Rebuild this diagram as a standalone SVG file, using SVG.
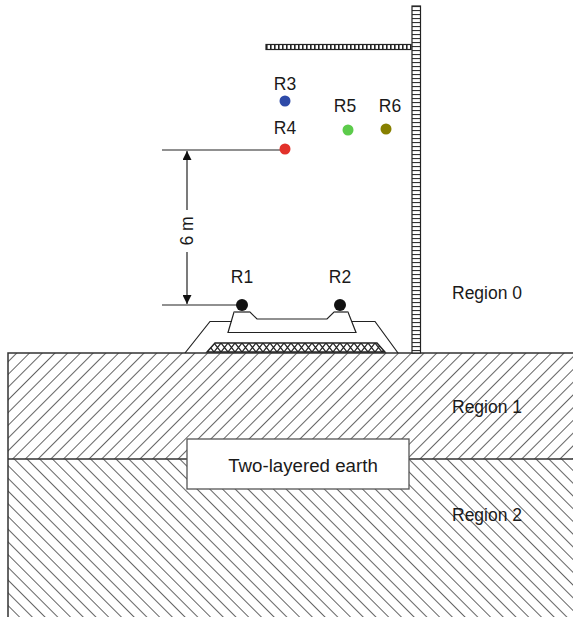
<svg xmlns="http://www.w3.org/2000/svg" width="573" height="617" viewBox="0 0 573 617">
  <style>
    .lbl { font-family: "Liberation Sans", Arial, sans-serif; font-size: 17.5px; fill: #1a1a1a; }
    .edge { fill: none; stroke: #333; stroke-width: 1.5; }
    .thin { fill: none; stroke: #222; stroke-width: 1.2; }
  </style>
  <defs>
    <!-- soil hatching: "/" for the upper layer, "\" for the lower layer -->
    <pattern id="hatchUp" width="9" height="9" patternUnits="userSpaceOnUse" patternTransform="rotate(45)">
      <rect width="9" height="9" fill="#fff"/>
      <line x1="0" y1="0" x2="0" y2="9" stroke="#111" stroke-width="1.3"/>
    </pattern>
    <pattern id="hatchDown" width="9" height="9" patternUnits="userSpaceOnUse" patternTransform="rotate(-45)">
      <rect width="9" height="9" fill="#fff"/>
      <line x1="0" y1="0" x2="0" y2="9" stroke="#111" stroke-width="1.3"/>
    </pattern>
    <!-- cross-hatch for the ballast mat -->
    <pattern id="cross" width="7" height="9" patternUnits="userSpaceOnUse" x="207" y="343">
      <rect width="7" height="9" fill="#fff"/>
      <path d="M0,0 L7,9 M7,0 L0,9" stroke="#222" stroke-width="1.2"/>
    </pattern>
    <!-- ladder rungs of the mast and the cantilever -->
    <pattern id="rungsH" width="9" height="4" patternUnits="userSpaceOnUse" x="412" y="6">
      <rect width="9" height="4" fill="#fff"/>
      <line x1="0" y1="0.5" x2="9" y2="0.5" stroke="#333" stroke-width="1.2"/>
    </pattern>
    <pattern id="rungsV" width="4" height="6" patternUnits="userSpaceOnUse" x="266" y="44">
      <rect width="4" height="6" fill="#fff"/>
      <line x1="0.8" y1="0" x2="0.8" y2="6" stroke="#222" stroke-width="1.6"/>
    </pattern>
    <marker id="arrow" viewBox="0 0 10 10" refX="10" refY="5" markerWidth="9" markerHeight="9" markerUnits="userSpaceOnUse" orient="auto-start-reverse">
      <path d="M0,0 L10,5 L0,10 Z" fill="#111"/>
    </marker>
  </defs>

  <rect width="573" height="617" fill="#fff"/>

  <!-- ground layers -->
  <g id="region1">
    <rect x="8" y="353" width="566" height="106" fill="url(#hatchUp)"/>
  </g>
  <g id="region2">
    <rect x="8" y="459" width="566" height="160" fill="url(#hatchDown)"/>
  </g>
  <path class="edge" d="M574,353 L8,353 L8,617 M8,459 L574,459"/>

  <!-- mast and cantilever -->
  <g id="mast">
    <rect x="412" y="6" width="8.5" height="347" fill="url(#rungsH)" stroke="#222" stroke-width="1.2"/>
  </g>
  <g id="cantilever">
    <rect x="266" y="44.5" width="145" height="5" fill="url(#rungsV)" stroke="#222" stroke-width="1.2"/>
  </g>

  <!-- track: ballast, mat and sleeper -->
  <g id="track">
    <path class="thin" d="M185,353 L210,321.5 L232,321.5 M352,321.5 L375,321.5 L398,353" fill="#fff"/>
    <path d="M207,352 L215,343 L377,343 L385,352 Z" fill="url(#cross)" stroke="#222" stroke-width="1.4"/>
    <path class="thin" d="M228,332.5 L234,312 L250,312 L257,319 L327,319 L334,312 L348,312 L356,332.5 Z" fill="#fff"/>
    <path d="M234,312 L250,312 M334,312 L348,312" stroke="#777" stroke-width="2"/>
  </g>

  <!-- dimension -->
  <g id="connectors">
    <line class="thin" x1="162" y1="150" x2="282" y2="150"/>
    <line class="thin" x1="162" y1="305" x2="238" y2="305"/>
    <line class="thin" x1="187" y1="210" x2="187" y2="151" marker-end="url(#arrow)"/>
    <line class="thin" x1="187" y1="252" x2="187" y2="304" marker-end="url(#arrow)"/>
    <text class="lbl" transform="translate(193,231) rotate(-90)" text-anchor="middle">6 m</text>
  </g>

  <!-- observation points -->
  <g id="R1">
    <circle cx="242" cy="305" r="6" fill="#111"/>
    <text class="lbl" x="242" y="283" text-anchor="middle">R1</text>
  </g>
  <g id="R2">
    <circle cx="340" cy="305" r="6" fill="#111"/>
    <text class="lbl" x="340" y="283" text-anchor="middle">R2</text>
  </g>
  <g id="R3">
    <circle cx="285" cy="101" r="5.5" fill="#2e4aa8"/>
    <text class="lbl" x="285" y="90" text-anchor="middle">R3</text>
  </g>
  <g id="R4">
    <circle cx="285" cy="149" r="5.5" fill="#e2312a"/>
    <text class="lbl" x="285" y="134" text-anchor="middle">R4</text>
  </g>
  <g id="R5">
    <circle cx="348" cy="130" r="5.5" fill="#5ccb4b"/>
    <text class="lbl" x="345" y="112" text-anchor="middle">R5</text>
  </g>
  <g id="R6">
    <circle cx="386" cy="129" r="5.5" fill="#878000"/>
    <text class="lbl" x="390" y="112" text-anchor="middle">R6</text>
  </g>

  <!-- earth model box -->
  <g id="earth-box">
    <rect x="187" y="439" width="222" height="50" fill="#fff" stroke="#555" stroke-width="1.3"/>
    <text class="lbl" x="303" y="472" text-anchor="middle" style="font-size:18.7px">Two-layered earth</text>
  </g>

  <!-- region labels -->
  <g id="labels">
    <text class="lbl" x="452" y="299">Region 0</text>
    <text class="lbl" x="452" y="413">Region 1</text>
    <text class="lbl" x="452" y="521">Region 2</text>
  </g>
</svg>
